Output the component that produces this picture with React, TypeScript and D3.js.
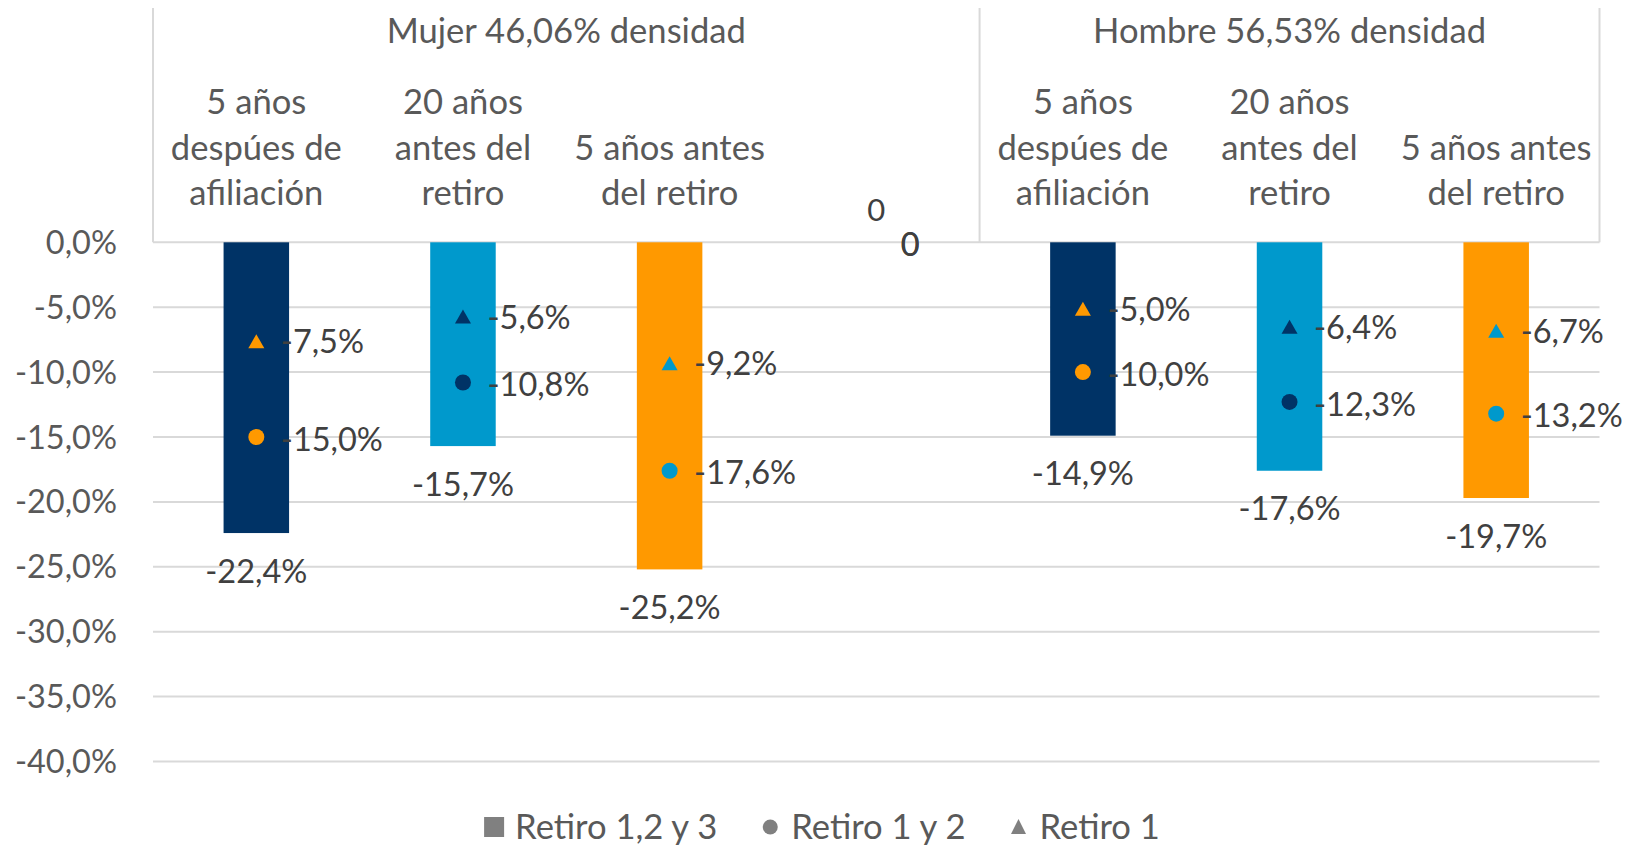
import { useEffect, useRef } from 'react';
import * as d3 from 'd3';

const SLOTS = ['m1', 'm2', 'm3', 'gap', 'h1', 'h2', 'h3'];
const CATEGORY_LABELS: string[][] = [
  ['5 años', 'despúes de', 'afiliación'],
  ['20 años', 'antes del', 'retiro'],
  ['5 años antes', 'del retiro'],
  [],
  ['5 años', 'despúes de', 'afiliación'],
  ['20 años', 'antes del', 'retiro'],
  ['5 años antes', 'del retiro'],
];
const GROUP_LABELS = ['Mujer 46,06% densidad', 'Hombre 56,53% densidad'];
const GROUP_SPANS = [['m1', 'gap'], ['h1', 'h3']];

const RETIRO_123 = [-22.4, -15.7, -25.2, 0, -14.9, -17.6, -19.7];
const RETIRO_12 = [-15.0, -10.8, -17.6, 0, -10.0, -12.3, -13.2];
const RETIRO_1 = [-7.5, -5.6, -9.2, 0, -5.0, -6.4, -6.7];

const Y_TICKS = [0, -5, -10, -15, -20, -25, -30, -35, -40];
const LEGEND_LABELS = ['Retiro 1,2 y 3', 'Retiro 1 y 2', 'Retiro 1'];

const NAVY = '#003366';
const BLUE = '#0099CC';
const ORANGE = '#FF9900';
const BAR_COLORS = [NAVY, BLUE, ORANGE, 'none', NAVY, BLUE, ORANGE];
const MARKER_COLORS = [ORANGE, NAVY, BLUE, 'none', ORANGE, NAVY, BLUE];

const FONT = 'Lato, "Open Sans", sans-serif';
const GRID = '#d9d9d9';
const AXIS_TEXT = '#595959';
const LABEL_TEXT = '#404040';
const NUM_SIZE = 32.5;
const WORD_SIZE = 34.6;

const locale = d3.formatLocale({ decimal: ',', thousands: '.', grouping: [3], currency: ['', ''], minus: '-' });
const pct = locale.format('.1%');

export default function App() {
  const svgRef = useRef<SVGSVGElement>(null);

  useEffect(() => {
    if (!svgRef.current) return;
    const width = 1625;
    const height = 845;
    const svg = d3.select(svgRef.current);
    svg.selectAll('*').remove();
    svg.attr('width', width).attr('height', height).attr('viewBox', `0 0 ${width} ${height}`);

    const x = d3.scaleBand<string>().domain(SLOTS).range([153, 1599.5])
      .paddingInner(0.683).paddingOuter(0.3415);
    const y = d3.scaleLinear().domain([-40, 0]).range([761.5, 242.3]);
    const step = x.step();
    const cx = (s: string) => (x(s) ?? 0) + x.bandwidth() / 2;

    svg.append('rect').attr('width', width).attr('height', height).attr('fill', 'white');

    // gridlines
    svg.append('g').selectAll('line').data(Y_TICKS).join('line')
      .attr('x1', 153).attr('x2', 1599.5)
      .attr('y1', d => y(d)).attr('y2', d => y(d))
      .attr('stroke', GRID).attr('stroke-width', 2);

    // y tick labels
    svg.append('g').selectAll('text').data(Y_TICKS).join('text')
      .attr('x', 117).attr('y', d => y(d) + 11.5)
      .attr('text-anchor', 'end')
      .attr('font-family', FONT).attr('font-size', NUM_SIZE).attr('fill', AXIS_TEXT)
      .text(d => pct(d / 100));

    // header box (multi-level category axis)
    const top = 8;
    const boundaries = [cx(SLOTS[0]) - step / 2, cx('h1') - step / 2, cx(SLOTS[SLOTS.length - 1]) + step / 2];
    svg.append('g').selectAll('line').data(boundaries).join('line')
      .attr('x1', d => d).attr('x2', d => d)
      .attr('y1', top).attr('y2', y(0))
      .attr('stroke', GRID).attr('stroke-width', 2);

    GROUP_SPANS.forEach(([a, b], i) => {
      const mid = (cx(a) - step / 2 + cx(b) + step / 2) / 2;
      svg.append('text')
        .attr('x', mid).attr('y', 43)
        .attr('text-anchor', 'middle')
        .attr('font-family', FONT).attr('font-size', WORD_SIZE).attr('fill', AXIS_TEXT)
        .text(GROUP_LABELS[i]);
    });

    SLOTS.forEach((s, i) => {
      const lines = CATEGORY_LABELS[i];
      lines.forEach((ln, j) => {
        svg.append('text')
          .attr('x', cx(s)).attr('y', 205 - (lines.length - 1 - j) * 45.4)
          .attr('text-anchor', 'middle')
          .attr('font-family', FONT).attr('font-size', WORD_SIZE).attr('fill', AXIS_TEXT)
          .text(ln);
      });
    });

    // bars
    svg.append('g').selectAll('rect').data(SLOTS).join('rect')
      .attr('x', d => x(d) ?? 0)
      .attr('width', x.bandwidth())
      .attr('y', y(0))
      .attr('height', (_, i) => y(RETIRO_123[i]) - y(0))
      .attr('fill', (_, i) => BAR_COLORS[i]);

    // bar labels
    svg.append('g').selectAll('text').data(SLOTS).join('text')
      .attr('x', d => cx(d))
      .attr('y', (_, i) => RETIRO_123[i] < 0 ? y(RETIRO_123[i]) + 49.6 : y(0) - 21.5)
      .attr('text-anchor', 'middle')
      .attr('font-family', FONT)
      .attr('font-size', (_, i) => RETIRO_123[i] < 0 ? NUM_SIZE : 31)
      .attr('fill', LABEL_TEXT)
      .text((_, i) => RETIRO_123[i] < 0 ? pct(RETIRO_123[i] / 100) : '0');

    const tri = 'M0,-5.5L8,8.5L-8,8.5Z';

    // circle markers (Retiro 1 y 2)
    svg.append('g').selectAll('circle').data(SLOTS).join('circle')
      .attr('cx', d => cx(d)).attr('cy', (_, i) => y(RETIRO_12[i]))
      .attr('r', 8)
      .attr('fill', (_, i) => MARKER_COLORS[i]);

    // triangle markers (Retiro 1)
    svg.append('g').selectAll('path').data(SLOTS).join('path')
      .attr('d', tri)
      .attr('transform', (d, i) => `translate(${cx(d)},${y(RETIRO_1[i])})`)
      .attr('fill', (_, i) => MARKER_COLORS[i]);

    // marker labels
    [RETIRO_12, RETIRO_1].forEach(series => {
      svg.append('g').selectAll('text').data(SLOTS).join('text')
        .attr('x', d => cx(d) + 24.5)
        .attr('y', (_, i) => y(series[i]) + 13.6)
        .attr('font-family', FONT).attr('font-size', NUM_SIZE).attr('fill', LABEL_TEXT)
        .text((_, i) => series[i] < 0 ? pct(series[i] / 100) : '0');
    });

    // legend
    const legend = svg.append('g');
    const legendY = 827;
    const items = LEGEND_LABELS.map((label, i) => {
      const g = legend.append('g');
      if (i === 0) {
        g.append('rect').attr('x', 0).attr('y', legendY - 10).attr('width', 20).attr('height', 20).attr('fill', '#808080');
      } else if (i === 1) {
        g.append('circle').attr('cx', 8).attr('cy', legendY).attr('r', 7.5).attr('fill', '#808080');
      } else {
        g.append('path').attr('d', 'M0,-8L7.5,7L-7.5,7Z').attr('transform', `translate(8,${legendY})`).attr('fill', '#808080');
      }
      const textX = i === 0 ? 31 : 29;
      const t = g.append('text')
        .attr('x', textX).attr('y', legendY + 12)
        .attr('font-family', FONT).attr('font-size', WORD_SIZE).attr('fill', AXIS_TEXT)
        .text(label);
      const w = textX + (t.node() as SVGTextElement).getComputedTextLength();
      return { g, w };
    });
    const gap = 45;
    const total = d3.sum(items, d => d.w) + gap * (items.length - 1);
    let lx = 822 - total / 2;
    items.forEach(it => {
      it.g.attr('transform', `translate(${lx},0)`);
      lx += it.w + gap;
    });
  }, []);

  return <svg ref={svgRef} style={{ position: 'absolute', left: 0, top: 0, display: 'block' }} />;
}
